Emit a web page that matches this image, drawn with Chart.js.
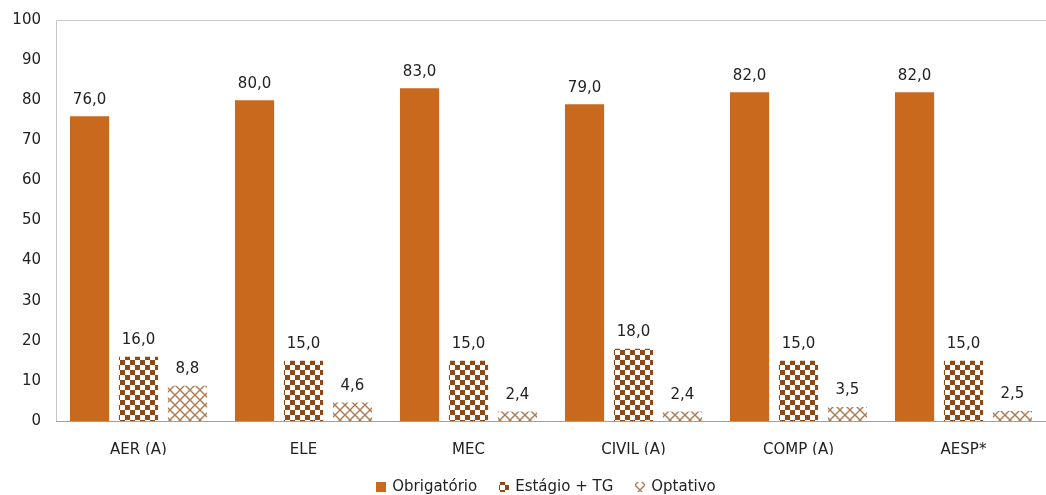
<!DOCTYPE html>
<html>
<head>
<meta charset="utf-8">
<script src="https://cdn.jsdelivr.net/npm/chart.js@4"></script>
<style>
  html, body { margin: 0; padding: 0; background: #fff; }
  #wrap { width: 1046px; height: 495px; }
</style>
</head>
<body>
<div id="wrap"><canvas id="myChart"></canvas></div>
<script>
const courses = ["AER (A)", "ELE", "MEC", "CIVIL (A)", "COMP (A)", "AESP*"];
const obrigatorio = [76.0, 80.0, 83.0, 79.0, 82.0, 82.0];
const estagioTG = [16.0, 15.0, 15.0, 18.0, 15.0, 15.0];
const optativo = [8.8, 4.6, 2.4, 2.4, 3.5, 2.5];
const yTicks = [0, 10, 20, 30, 40, 50, 60, 70, 80, 90, 100];

const FONT = "'DejaVu Sans', Verdana, sans-serif";
const TEXT = "#222";

// checkerboard fill for the internship bars
function checkerPattern() {
  const c = document.createElement("canvas");
  c.width = 10; c.height = 10;
  const g = c.getContext("2d");
  g.fillStyle = "#fff";
  g.fillRect(0, 0, 10, 10);
  g.fillStyle = "#8E4916";
  g.fillRect(0, 0, 5, 5);
  g.fillRect(5, 5, 5, 5);
  return g.createPattern(c, "repeat");
}

// diagonal crosshatch for the elective bars
function hatchPattern() {
  const c = document.createElement("canvas");
  c.width = 10; c.height = 10;
  const g = c.getContext("2d");
  g.fillStyle = "#fff";
  g.fillRect(0, 0, 10, 10);
  g.strokeStyle = "#AD7A50";
  g.lineWidth = 1.4;
  g.beginPath();
  g.moveTo(0, 0); g.lineTo(10, 10);
  g.moveTo(10, 0); g.lineTo(0, 10);
  g.stroke();
  return g.createPattern(c, "repeat");
}

// values printed above each bar, with comma decimals
const valueLabels = {
  id: "valueLabels",
  afterDatasetsDraw(chart) {
    const ctx = chart.ctx;
    ctx.save();
    ctx.font = "15px " + FONT;
    ctx.fillStyle = TEXT;
    ctx.textAlign = "center";
    ctx.textBaseline = "bottom";
    chart.data.datasets.forEach((ds, i) => {
      chart.getDatasetMeta(i).data.forEach((bar, j) => {
        ctx.fillText(ds.data[j].toFixed(1).replace(".", ","), bar.x, bar.y - 9);
      });
    });
    ctx.restore();
  },
};

// light frame around the plot area
const plotFrame = {
  id: "plotFrame",
  beforeDatasetsDraw(chart) {
    const a = chart.chartArea;
    const ctx = chart.ctx;
    ctx.save();
    ctx.strokeStyle = "#C8C8C8";
    ctx.lineWidth = 1;
    ctx.beginPath();
    ctx.moveTo(a.left + 0.5, a.bottom);
    ctx.lineTo(a.left + 0.5, a.top + 0.5);
    ctx.lineTo(a.right, a.top + 0.5);
    ctx.stroke();
    ctx.restore();
  },
};

// legend row drawn under the axis labels
const bottomLegend = {
  id: "bottomLegend",
  afterDraw(chart) {
    const ctx = chart.ctx;
    const box = 10, gap = 6, spacing = 22, y = 487;
    ctx.save();
    ctx.font = "15px " + FONT;
    ctx.textBaseline = "middle";
    const items = chart.data.datasets.map((ds) => ({
      label: ds.label,
      fill: ds.backgroundColor,
      w: box + gap + ctx.measureText(ds.label).width,
    }));
    const total = items.reduce((s, it) => s + it.w, 0) + spacing * (items.length - 1);
    let x = (chart.chartArea.left + chart.chartArea.right) / 2 - total / 2 - 5;
    items.forEach((it) => {
      ctx.fillStyle = it.fill;
      ctx.fillRect(Math.round(x), y - box / 2, box, box);
      ctx.fillStyle = TEXT;
      ctx.fillText(it.label, x + box + gap, y);
      x += it.w + spacing;
    });
    ctx.restore();
  },
};

const ctx = document.getElementById("myChart").getContext("2d");

new Chart(ctx, {
  type: "bar",
  data: {
    labels: courses,
    datasets: [
      { label: "Obrigatório", data: obrigatorio, backgroundColor: "#C8691E" },
      { label: "Estágio + TG", data: estagioTG, backgroundColor: checkerPattern() },
      { label: "Optativo", data: optativo, backgroundColor: hatchPattern() },
    ],
  },
  options: {
    responsive: true,
    maintainAspectRatio: false,
    animation: false,
    devicePixelRatio: 1,
    categoryPercentage: 0.89,
    barPercentage: 0.8,
    layout: { padding: { top: 20, left: 0, right: 0, bottom: 40 } },
    scales: {
      x: {
        afterFit(scale) { scale.height = 34; },
        grid: { display: false, drawTicks: false },
        border: { color: "#A0A0A0", width: 1 },
        ticks: { color: TEXT, font: { family: FONT, size: 15 }, padding: 20 },
      },
      y: {
        min: 0,
        max: 100,
        afterFit(scale) {
          scale.width = 56;
          scale.paddingTop = 0;
          scale.paddingBottom = 0;
        },
        afterBuildTicks(scale) { scale.ticks = yTicks.map((v) => ({ value: v })); },
        grid: { display: false, drawTicks: false },
        border: { display: false },
        ticks: { color: TEXT, font: { family: FONT, size: 15 }, padding: 15 },
      },
    },
    plugins: {
      tooltip: { enabled: false },
      legend: { display: false },
    },
  },
  plugins: [plotFrame, valueLabels, bottomLegend],
});
</script>
</body>
</html>
